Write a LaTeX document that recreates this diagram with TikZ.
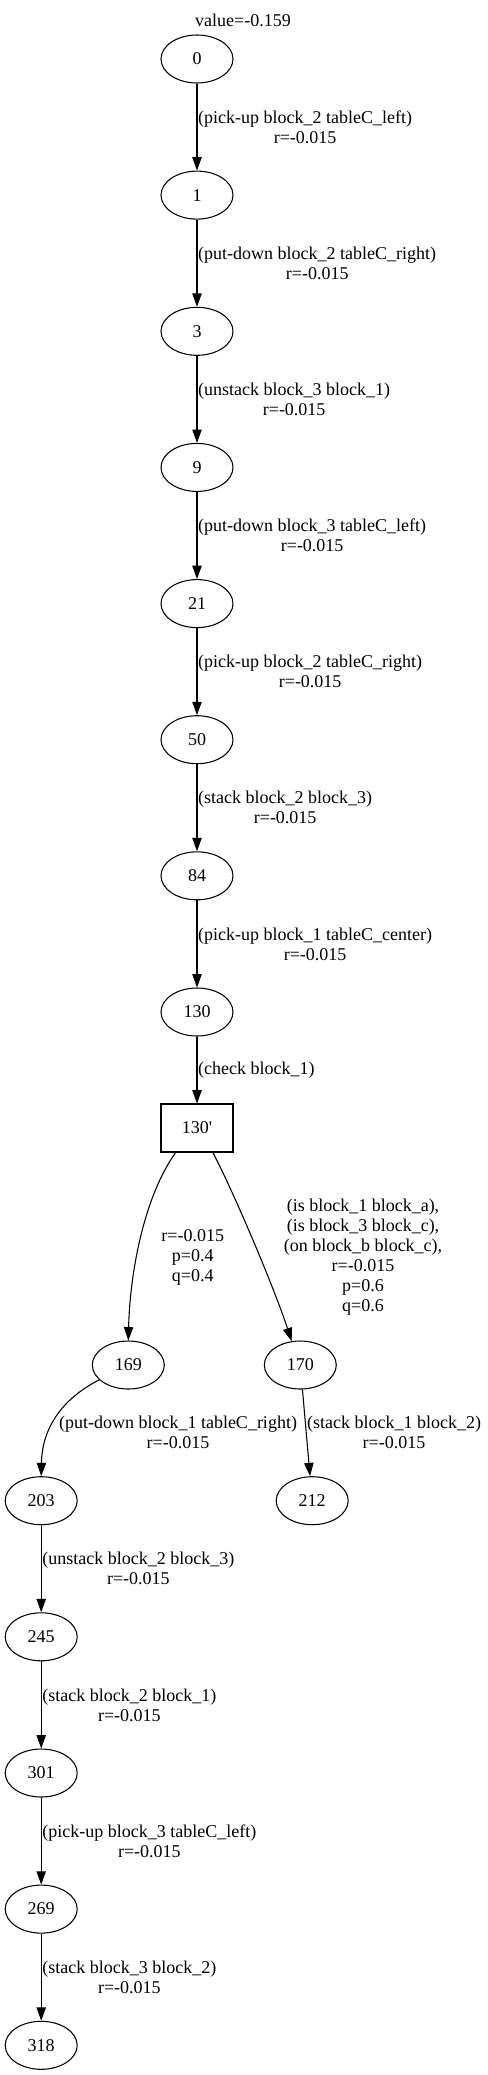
\documentclass[tikz,border=0pt]{standalone}
\usepackage{fontspec}
\setmainfont{Liberation Serif}
\usetikzlibrary{arrows.meta, shapes.geometric}

\begin{document}
\begin{tikzpicture}[x=0.75pt, y=-0.75pt,
    font=\fontsize{13.5}{15}\selectfont,
    state/.style={draw, ellipse, line width=0.8pt, minimum width=54pt, minimum height=36pt, inner sep=0pt},
    chance/.style={draw, rectangle, line width=0.8pt, minimum width=54pt, minimum height=36pt, inner sep=0pt},
    lbl/.style={align=center, inner sep=0.5pt},
    act/.style={line width=0.8pt, -{Triangle[length=10pt, width=7pt]}}]
    \useasboundingbox (0,0) rectangle (488,2075);
    % states
    \node[state] (n0) at (197,59) {0};
    \node (v0) at (243,20) {value=-0.159};
    \node[state] (n1) at (197,195.1) {1};
    \node[state] (n3) at (197,331.3) {3};
    \node[state] (n9) at (197,467.4) {9};
    \node[state] (n21) at (197,603.6) {21};
    \node[state] (n50) at (197,739.7) {50};
    \node[state] (n84) at (197,875.8) {84};
    \node[state] (n130) at (197,1012) {130};
    \node[chance] (n130c) at (197,1128) {130\textquotesingle};
    \node[state] (n169) at (128.3,1365) {169};
    \node[state] (n170) at (300.3,1365) {170};
    \node[state] (n203) at (41.2,1500.7) {203};
    \node[state] (n212) at (312.2,1500.7) {212};
    \node[state] (n245) at (41.2,1636.8) {245};
    \node[state] (n301) at (41.2,1773) {301};
    \node[state] (n269) at (41.2,1909.1) {269};
    \node[state] (n318) at (41.2,2045.3) {318};
    % actions
    \draw[act] (n0) -- node[lbl, anchor=west] {(pick-up block\_2 tableC\_left)\\r=-0.015} (n1);
    \draw[act] (n1) -- node[lbl, anchor=west] {(put-down block\_2 tableC\_right)\\r=-0.015} (n3);
    \draw[act] (n3) -- node[lbl, anchor=west] {(unstack block\_3 block\_1)\\r=-0.015} (n9);
    \draw[act] (n9) -- node[lbl, anchor=west] {(put-down block\_3 tableC\_left)\\r=-0.015} (n21);
    \draw[act] (n21) -- node[lbl, anchor=west] {(pick-up block\_2 tableC\_right)\\r=-0.015} (n50);
    \draw[act] (n50) -- node[lbl, anchor=west] {(stack block\_2 block\_3)\\r=-0.015} (n84);
    \draw[act] (n84) -- node[lbl, anchor=west] {(pick-up block\_1 tableC\_center)\\r=-0.015} (n130);
    \draw[act] (n130) -- node[lbl, anchor=west] {(check block\_1)} (n130c);
    % outcomes
    \draw[act] (n130c.-131) .. controls (145,1195) and (130,1270) .. (n169.north);
    \node[lbl] (o169) at (192.7,1257) {r=-0.015\\p=0.4\\q=0.4};
    \draw[act] (n130c.-57) .. controls (235,1195) and (275,1290) .. (n170.110);
    \node[lbl] (o170) at (363,1257) {(is block\_1 block\_a),\\(is block\_3 block\_c),\\(on block\_b block\_c),\\r=-0.015\\p=0.6\\q=0.6};
    \draw[act] (n169.-153) .. controls (60,1400) and (42,1430) .. (n203.north);
    \node[lbl] (l169) at (178,1432) {(put-down block\_1 tableC\_right)\\r=-0.015};
    \draw[act] (n170) -- (n212);
    \node[lbl] (l170) at (394,1432) {(stack block\_1 block\_2)\\r=-0.015};
    \draw[act] (n203) -- node[lbl, anchor=west] {(unstack block\_2 block\_3)\\r=-0.015} (n245);
    \draw[act] (n245) -- node[lbl, anchor=west] {(stack block\_2 block\_1)\\r=-0.015} (n301);
    \draw[act] (n301) -- node[lbl, anchor=west] {(pick-up block\_3 tableC\_left)\\r=-0.015} (n269);
    \draw[act] (n269) -- node[lbl, anchor=west] {(stack block\_3 block\_2)\\r=-0.015} (n318);
\end{tikzpicture}
\end{document}
